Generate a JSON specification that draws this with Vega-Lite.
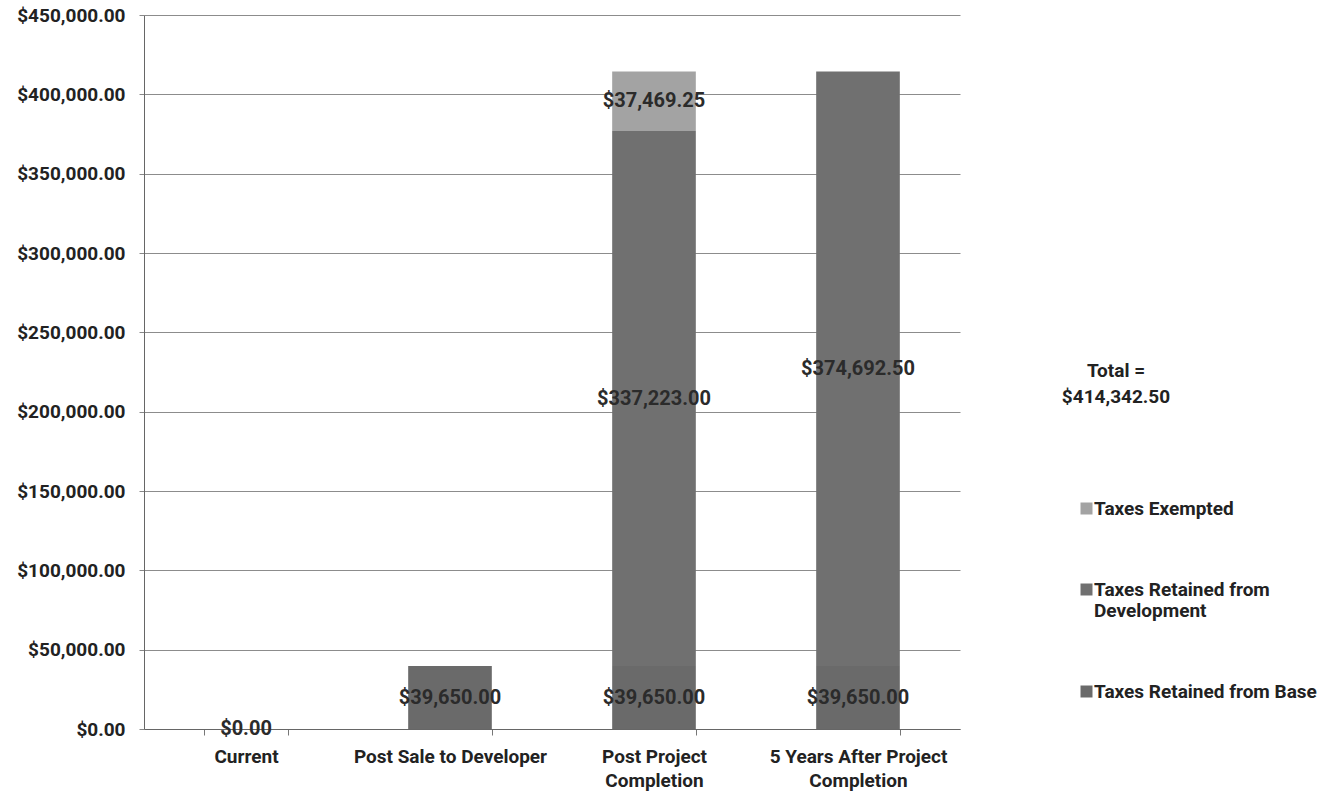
{
  "$schema": "https://vega.github.io/schema/vega-lite/v6.json",
  "width": 816,
  "height": 714,
  "autosize": {"type": "none"},
  "padding": {"left": 144, "top": 15, "right": 376, "bottom": 64},
  "background": "white",
  "config": {"view": {"stroke": null}, "font": "Roboto"},
  "data": {
    "values": [
      {"category": "Current", "component": "Taxes Retained from Base", "value": 0},
      {"category": "Post Sale to Developer", "component": "Taxes Retained from Base", "value": 39650},
      {"category": "Post Project Completion", "component": "Taxes Retained from Base", "value": 39650},
      {"category": "Post Project Completion", "component": "Taxes Retained from Development", "value": 337223},
      {"category": "Post Project Completion", "component": "Taxes Exempted", "value": 37469.25},
      {"category": "5 Years After Project Completion", "component": "Taxes Retained from Base", "value": 39650},
      {"category": "5 Years After Project Completion", "component": "Taxes Retained from Development", "value": 374692.5}
    ]
  },
  "transform": [
    {"calculate": "indexof(['Taxes Retained from Base','Taxes Retained from Development','Taxes Exempted'], datum.component)", "as": "ord"},
    {"stack": "value", "groupby": ["category"], "sort": [{"field": "ord"}], "as": ["v0", "v1"]},
    {"calculate": "(datum.v0 + datum.v1) / 2", "as": "mid"}
  ],
  "encoding": {
    "x": {
      "field": "category",
      "type": "nominal",
      "sort": ["Current", "Post Sale to Developer", "Post Project Completion", "5 Years After Project Completion"],
      "scale": {"paddingInner": 0.59, "paddingOuter": 0.295},
      "axis": {
        "title": null,
        "labelAngle": 0,
        "labelExpr": "datum.value == 'Post Project Completion' ? ['Post Project','Completion'] : datum.value == '5 Years After Project Completion' ? ['5 Years After Project','Completion'] : datum.value",
        "labelFontSize": 19,
        "labelFontWeight": "bold",
        "labelColor": "#222222",
        "labelLineHeight": 24,
        "labelPadding": 12,
        "labelBaseline": "top",
        "labelLimit": 400,
        "tickBand": "extent",
        "tickSize": 6,
        "tickColor": "#777777",
        "domainColor": "#666666",
        "grid": false
      }
    }
  },
  "layer": [
    {
      "mark": {"type": "bar"},
      "encoding": {
        "y": {
          "field": "v0",
          "type": "quantitative",
          "scale": {"domain": [0, 450000]},
          "axis": {
            "title": null,
            "values": [0, 50000, 100000, 150000, 200000, 250000, 300000, 350000, 400000, 450000],
            "format": "$,.2f",
            "labelFontSize": 19,
            "labelFontWeight": "bold",
            "labelColor": "#222222",
            "ticks": true,
            "tickSize": 5,
            "tickColor": "#888888",
            "labelPadding": 14,
            "domainColor": "#666666",
            "gridColor": "#8c8c8c",
            "gridWidth": 1
          }
        },
        "y2": {"field": "v1"},
        "color": {
          "field": "component",
          "type": "nominal",
          "scale": {
            "domain": ["Taxes Exempted", "Taxes Retained from Development", "Taxes Retained from Base"],
            "range": ["#a3a3a3", "#707070", "#6a6a6a"]
          },
          "legend": {
            "orient": "none",
            "direction": "vertical",
            "legendX": 918,
            "legendY": 347,
            "padding": 0,
            "title": ["Total =", "$414,342.50"],
            "titleAlign": "center",
            "titleAnchor": "start",
            "titleFontSize": 19,
            "titleFontWeight": "bold",
            "titleColor": "#222222",
            "titleLineHeight": 26,
            "titlePadding": 92,
            "titleLimit": 400,
            "labelFontSize": 19,
            "labelFontWeight": "bold",
            "labelColor": "#222222",
            "labelLimit": 400,
            "labelExpr": "datum.label == 'Taxes Retained from Development' ? ['Taxes Retained from', 'Development'] : datum.label",
            "symbolType": "square",
            "symbolSize": 144,
            "symbolStrokeWidth": 0,
            "symbolOffset": -39,
            "labelOffset": -2,
            "rowPadding": 61
          }
        }
      }
    },
    {
      "mark": {"type": "text", "fontSize": 20, "fontWeight": "bold", "color": "#2b2b2b", "align": "center", "baseline": "middle"},
      "encoding": {
        "y": {"field": "mid", "type": "quantitative"},
        "text": {"field": "value", "type": "quantitative", "format": "$,.2f"}
      }
    }
  ]
}
